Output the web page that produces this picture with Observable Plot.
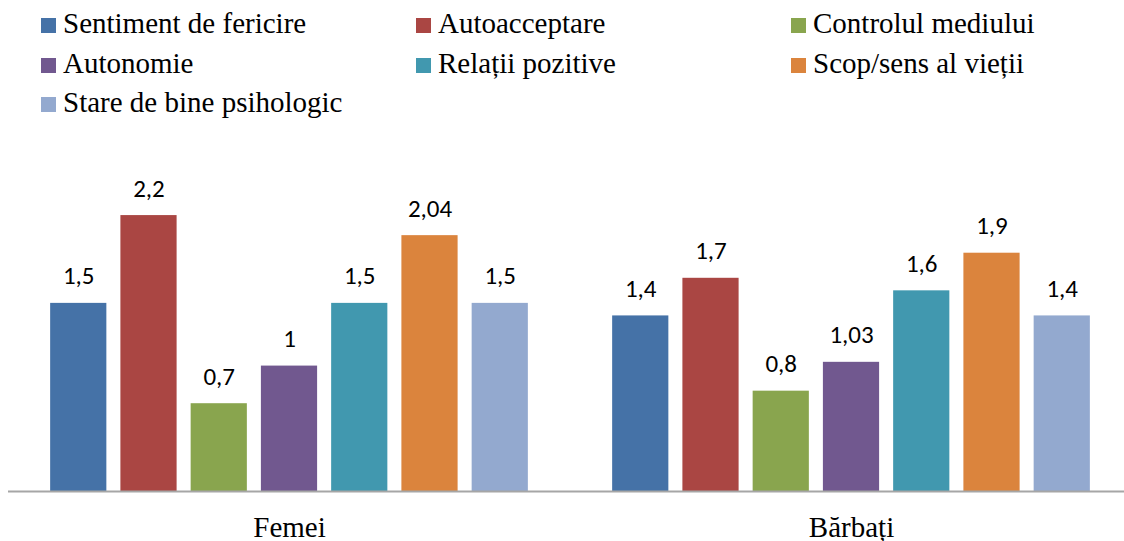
<!DOCTYPE html>
<html>
<head>
<meta charset="utf-8">
<script src="https://cdn.jsdelivr.net/npm/d3@7"></script>
<script src="https://cdn.jsdelivr.net/npm/@observablehq/plot@0.6"></script>
<style>
  html, body { margin: 0; padding: 0; background: #fff; overflow: hidden; width: 1124px; height: 541px; }
  #legend { position: relative; width: 1124px; height: 130px; font-family: "Liberation Serif", "Times New Roman", Tinos, serif; font-size: 29px; color: #000; }
  .sw { position: absolute; width: 15px; height: 15px; }
  .lt { position: absolute; line-height: 29px; white-space: nowrap; }
  #chart svg { display: block; overflow: visible; max-width: none !important; width: 1132px; height: 411px !important; }
</style>
</head>
<body>
<div id="legend"></div>
<div id="chart"></div>
<script>
const groups = ["Femei", "Bărbați"];
const series = ["Sentiment de fericire", "Autoacceptare", "Controlul mediului", "Autonomie", "Relații pozitive", "Scop/sens al vieții", "Stare de bine psihologic"];
const femei = [1.5, 2.2, 0.7, 1, 1.5, 2.04, 1.5];
const barbati = [1.4, 1.7, 0.8, 1.03, 1.6, 1.9, 1.4];
const colors = ["#4572A7", "#AA4643", "#89A54E", "#71588F", "#4198AF", "#DB843D", "#93A9CF"];

const serifFont = '"Liberation Serif", "Times New Roman", Tinos, serif';

// legend (HTML, above the SVG)
const legendCols = [41, 416, 791];
const legendRows = [33, 73, 112];
const legend = document.getElementById("legend");
series.forEach((s, i) => {
  const col = i % 3, row = Math.floor(i / 3);
  const base = legendRows[row];
  const sw = document.createElement("div");
  sw.className = "sw";
  sw.style.left = legendCols[col] + "px";
  sw.style.top = (base - 15) + "px";
  sw.style.background = colors[i];
  legend.appendChild(sw);
  const t = document.createElement("div");
  t.className = "lt";
  t.style.left = (legendCols[col] + 22) + "px";
  t.style.top = (base - 24.3) + "px";
  t.textContent = s;
  legend.appendChild(t);
});

const data = [];
groups.forEach((g, gi) => {
  const vals = gi === 0 ? femei : barbati;
  series.forEach((s, si) => data.push({group: g, series: s, value: vals[si]}));
});
const fmt = v => String(v).replace(".", ",");

const plot = Plot.plot({
  width: 1132,
  height: 411,
  marginLeft: 8,
  marginRight: 0,
  marginTop: 60,
  marginBottom: 50,
  style: {maxWidth: "none", overflow: "visible"},
  fx: {domain: groups, padding: 0, round: false, axis: null},
  x: {domain: series, paddingInner: 0.2, paddingOuter: 0.6, round: false, axis: null},
  y: {domain: [0, 2.4], axis: null},
  color: {domain: series, range: colors},
  marks: [
    Plot.barY(data, {fx: "group", x: "series", y: "value", fill: "series"}),
    Plot.ruleY([0], {stroke: "#a6a6a6", strokeWidth: 2}),
    Plot.text(data, {fx: "group", x: "series", y: "value", text: d => fmt(d.value), dy: -27, lineAnchor: "middle", fontSize: 25, fontFamily: "Carlito, Calibri, 'Open Sans', sans-serif", fill: "#000"}),
    Plot.text(groups, {fx: d => d, text: d => d, frameAnchor: "bottom", dy: 36, lineAnchor: "middle", fontSize: 29, fontFamily: serifFont, fill: "#000"})
  ]
});
document.getElementById("chart").appendChild(plot);
</script>
</body>
</html>
